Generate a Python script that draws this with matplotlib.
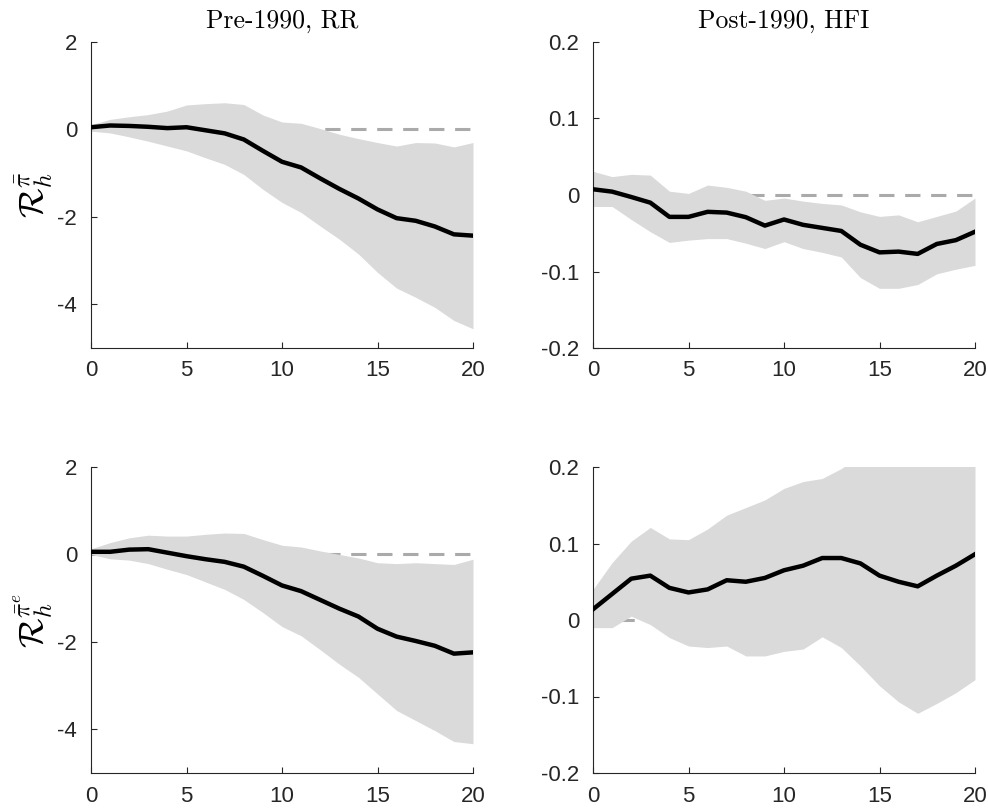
import matplotlib
matplotlib.use("Agg")
import matplotlib.pyplot as plt
import numpy as np

plt.rcParams['axes.unicode_minus'] = False
plt.rcParams['mathtext.fontset'] = 'cm'
plt.rcParams['font.family'] = 'Liberation Sans'

horizon = np.arange(21)

# pre-1990, RR : response of pi-bar
pre_pi_mean = [0.05, 0.09, 0.08, 0.06, 0.03, 0.05, -0.02, -0.09, -0.23, -0.49, -0.74,
               -0.87, -1.12, -1.36, -1.58, -1.83, -2.03, -2.09, -2.22, -2.40, -2.43]
pre_pi_hi = [0.11, 0.23, 0.29, 0.34, 0.42, 0.56, 0.59, 0.61, 0.57, 0.33, 0.17,
             0.14, 0.02, -0.11, -0.21, -0.30, -0.38, -0.30, -0.31, -0.40, -0.30]
pre_pi_lo = [-0.04, -0.08, -0.17, -0.27, -0.38, -0.49, -0.65, -0.80, -1.03, -1.37, -1.67,
             -1.90, -2.21, -2.51, -2.85, -3.27, -3.63, -3.84, -4.07, -4.37, -4.56]

# post-1990, HFI : response of pi-bar
post_pi_mean = [0.0075, 0.0044, -0.0026, -0.010, -0.0286, -0.0286, -0.022, -0.023, -0.029, -0.040, -0.032,
                -0.039, -0.043, -0.047, -0.065, -0.075, -0.074, -0.077, -0.064, -0.059, -0.048]
post_pi_hi = [0.031, 0.024, 0.027, 0.026, 0.005, 0.002, 0.013, 0.010, 0.005, -0.007, -0.004,
              -0.008, -0.011, -0.013, -0.022, -0.028, -0.026, -0.035, -0.028, -0.021, -0.004]
post_pi_lo = [-0.015, -0.015, -0.032, -0.048, -0.062, -0.059, -0.057, -0.057, -0.063, -0.070, -0.061,
              -0.070, -0.075, -0.081, -0.108, -0.122, -0.122, -0.117, -0.103, -0.097, -0.092]

# pre-1990, RR : response of pi-bar^e
pre_pie_mean = [0.06, 0.06, 0.11, 0.12, 0.04, -0.04, -0.11, -0.17, -0.28, -0.49, -0.71,
                -0.84, -1.04, -1.24, -1.42, -1.70, -1.88, -1.98, -2.09, -2.27, -2.24]
pre_pie_hi = [0.13, 0.27, 0.38, 0.44, 0.42, 0.42, 0.46, 0.49, 0.48, 0.34, 0.21,
              0.17, 0.08, 0.0, -0.08, -0.19, -0.21, -0.19, -0.21, -0.23, -0.11]
pre_pie_lo = [0.0, -0.10, -0.13, -0.21, -0.34, -0.46, -0.63, -0.80, -1.03, -1.33, -1.65,
              -1.86, -2.18, -2.51, -2.81, -3.19, -3.57, -3.80, -4.03, -4.28, -4.33]

# post-1990, HFI : response of pi-bar^e
post_pie_mean = [0.014, 0.034, 0.054, 0.058, 0.042, 0.036, 0.040, 0.052, 0.050, 0.055, 0.065,
                 0.071, 0.081, 0.081, 0.074, 0.058, 0.050, 0.044, 0.058, 0.071, 0.086]
post_pie_hi = [0.040, 0.075, 0.103, 0.121, 0.106, 0.105, 0.119, 0.137, 0.147, 0.157, 0.172,
               0.181, 0.185, 0.198, 0.215, 0.23, 0.24, 0.25, 0.26, 0.27, 0.28]
post_pie_lo = [-0.010, -0.010, 0.005, -0.006, -0.023, -0.034, -0.036, -0.034, -0.047, -0.047, -0.041,
               -0.038, -0.022, -0.036, -0.060, -0.086, -0.107, -0.122, -0.109, -0.095, -0.078]

titulos = ['Pre-1990, RR', 'Post-1990, HFI']
ylabels = [r'$\mathcal{R}_h^{\bar{\pi}}$', r'$\mathcal{R}_h^{\bar{\pi}^e}$']

paineis = [
    (pre_pi_mean, pre_pi_lo, pre_pi_hi),
    (post_pi_mean, post_pi_lo, post_pi_hi),
    (pre_pie_mean, pre_pie_lo, pre_pie_hi),
    (post_pie_mean, post_pie_lo, post_pie_hi),
]

cor_eixo = '#262626'

fig = plt.figure(figsize=(9.88, 8.11), dpi=100)
lefts = [91 / 988, 593 / 988]
bottoms = [1 - 348 / 811, 1 - 773 / 811]
w = 382 / 988
h = 306 / 811

for i, (media, lo, hi) in enumerate(paineis):
    linha, col = divmod(i, 2)
    ax = fig.add_axes([lefts[col], bottoms[linha], w, h])
    ax.plot(horizon, np.zeros(len(horizon)), color='#aaaaaa', lw=2.2, dashes=(5, 3.5), zorder=1)
    ax.fill_between(horizon, lo, hi, color='#dadada', lw=0, zorder=2)
    ax.plot(horizon, media, color='black', lw=3.2, zorder=3)

    ax.set_xlim(0, 20)
    ax.set_xticks([0, 5, 10, 15, 20])
    if col == 0:
        ax.set_ylim(-5, 2)
        ax.set_yticks([-4, -2, 0, 2])
        ax.set_yticklabels(['-4', '-2', '0', '2'])
    else:
        ax.set_ylim(-0.2, 0.2)
        ax.set_yticks([-0.2, -0.1, 0, 0.1, 0.2])
        ax.set_yticklabels(['-0.2', '-0.1', '0', '0.1', '0.2'])

    for lado in ['top', 'right']:
        ax.spines[lado].set_visible(False)
    for lado in ['left', 'bottom']:
        ax.spines[lado].set_color(cor_eixo)
        ax.spines[lado].set_linewidth(0.8)
    ax.tick_params(direction='in', length=4, width=0.8, colors=cor_eixo, labelsize=16)
    ax.tick_params(axis='y', pad=10)
    ax.tick_params(axis='x', pad=9)

    if linha == 0:
        ax.set_title(titulos[col], fontfamily='cmr10', fontsize=18.5, pad=10)
    if col == 0:
        # rotulo do eixo y posto a mao, centrado no painel
        fig.text(34 / 988, bottoms[linha] + h / 2, ylabels[linha], fontsize=25,
                 rotation=90, ha='center', va='center', color='black')

fig.savefig('out.png', dpi=100)
